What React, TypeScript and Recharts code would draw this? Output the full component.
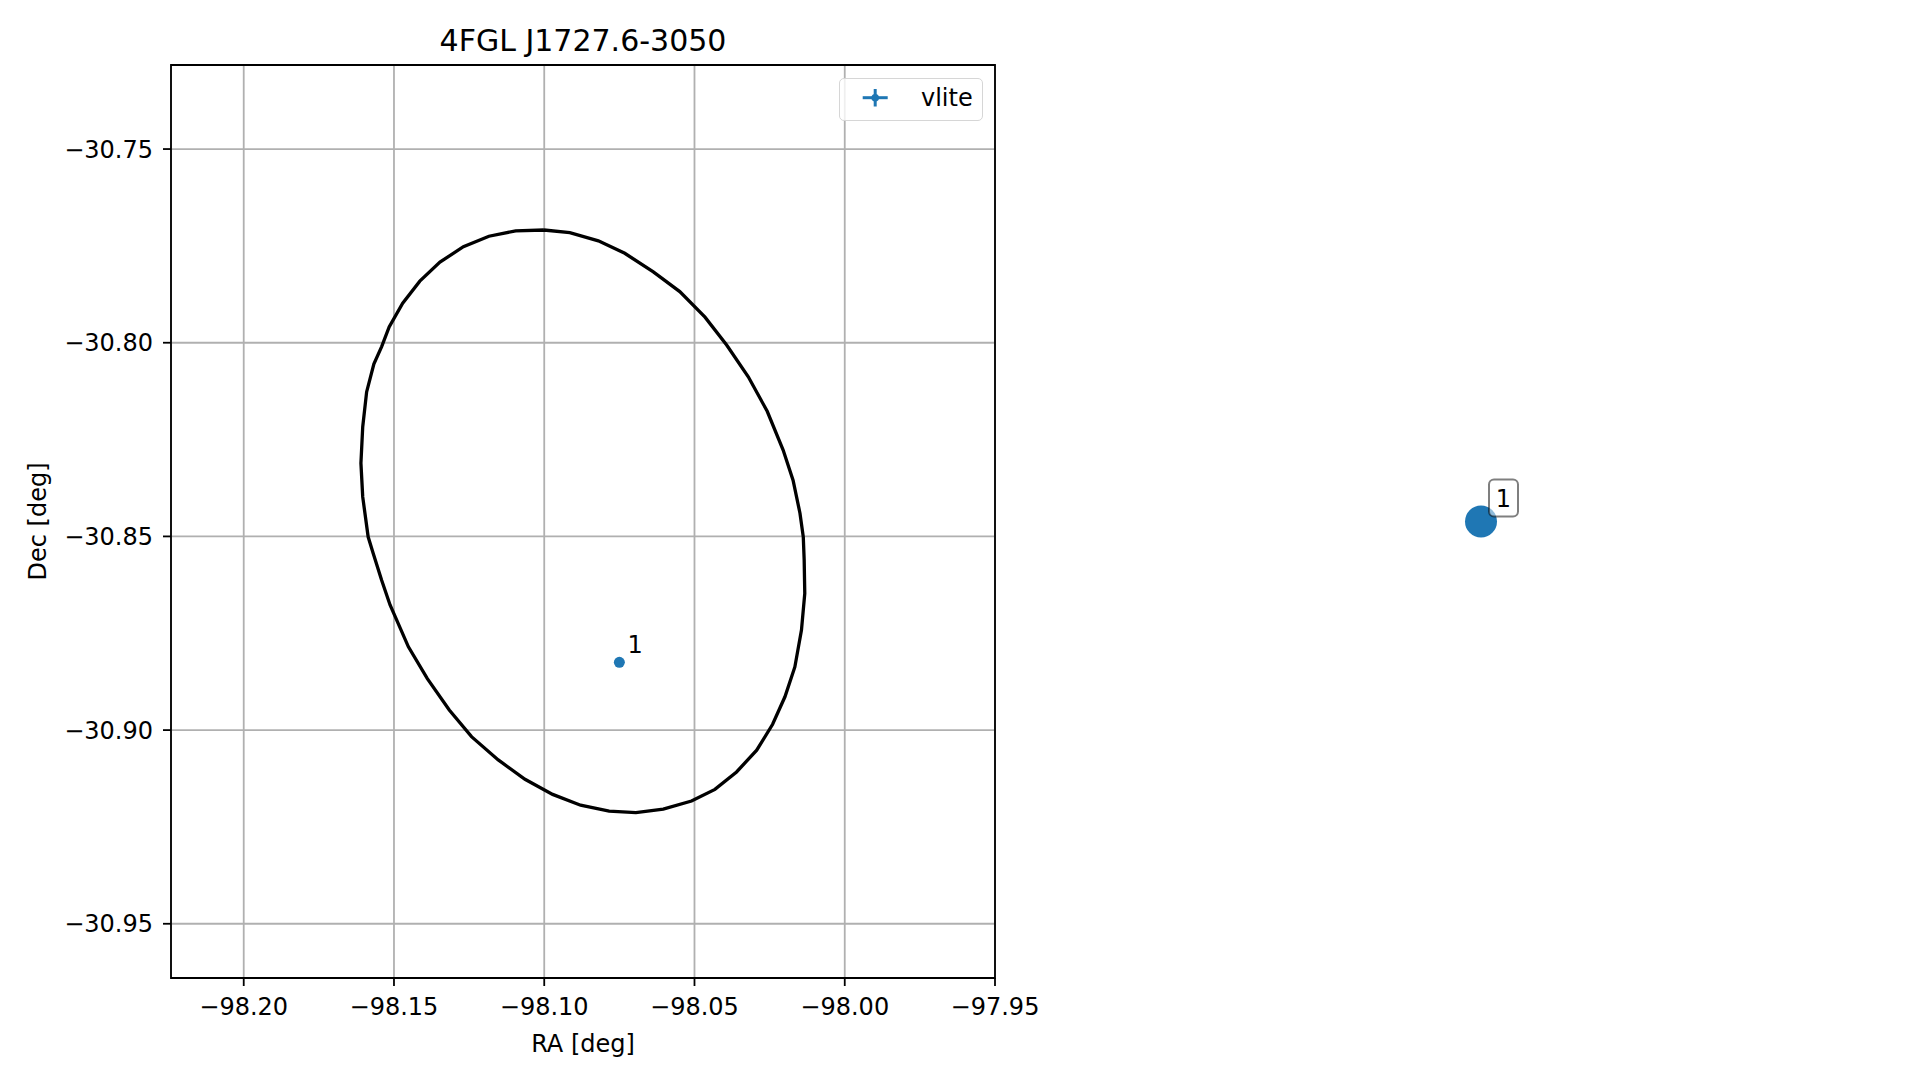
import React from 'react';
import {
  ScatterChart,
  Scatter,
  XAxis,
  YAxis,
  CartesianGrid,
  ReferenceArea,
} from 'recharts';

// 95% localisation ellipse (RA, Dec in deg)
const ellipseRa = [
  -98.1001, -98.0915, -98.082, -98.0732, -98.0637, -98.0549, -98.0465, -98.0393,
  -98.0321, -98.0258, -98.0205, -98.0172, -98.0149, -98.0138, -98.0135, -98.0133,
  -98.0144, -98.0166, -98.0199, -98.024, -98.0293, -98.036, -98.0432, -98.051,
  -98.0604, -98.0695, -98.0784, -98.0879, -98.0972, -98.1064, -98.1153, -98.1242,
  -98.1316, -98.1389, -98.1452, -98.1513, -98.1541, -98.1569, -98.1586, -98.1604,
  -98.161, -98.1604, -98.1591, -98.1567, -98.1541, -98.1516, -98.1471, -98.1414,
  -98.1347, -98.1269, -98.1184, -98.1095, -98.1001,
];
const ellipseDec = [
  -30.7709, -30.7716, -30.7737, -30.7769, -30.7817, -30.7868, -30.7934, -30.8006,
  -30.8088, -30.8177, -30.8277, -30.8355, -30.844, -30.8501, -30.8561, -30.8647,
  -30.8742, -30.8837, -30.8914, -30.8985, -30.9052, -30.9108, -30.9153, -30.9183,
  -30.9204, -30.9213, -30.9209, -30.9194, -30.9166, -30.9127, -30.9077, -30.9017,
  -30.8948, -30.8867, -30.8785, -30.8677, -30.8613, -30.8544, -30.8501, -30.8398,
  -30.8311, -30.8217, -30.8127, -30.8055, -30.801, -30.7959, -30.7898, -30.7841,
  -30.7792, -30.7752, -30.7725, -30.7711, -30.7709,
];

// vlite sources
const srcLabels = ['1'];
const srcRa = [-98.075];
const srcDec = [-30.8825];

const raTicks = [-98.2, -98.15, -98.1, -98.05, -98.0, -97.95];
const decTicks = [-30.95, -30.9, -30.85, -30.8, -30.75];
const raDomain: [number, number] = [-98.2242, -97.95];
const decDomain: [number, number] = [-30.964, -30.7283];

const FONT = '"DejaVu Sans", sans-serif';
const BLUE = '#1f77b4';
const FS = 24;

const ellipseData = ellipseRa.map((ra, i) => ({ ra, dec: ellipseDec[i] }));
const srcData = srcRa.map((ra, i) => ({ ra, dec: srcDec[i], label: srcLabels[i] }));

const fmt = (v: number) => v.toFixed(2).replace('-', '\u2212');

const NoShape = () => <g />;

const SmallSource = (props: any) => {
  const { cx, cy, payload } = props;
  return (
    <g>
      <circle cx={cx} cy={cy} r={5.5} fill={BLUE} />
      <text x={cx + 15.7} y={cy - 9} textAnchor="middle" fontSize={FS} fill="#000" fontFamily={FONT}>
        {payload.label}
      </text>
    </g>
  );
};

const BigSource = (props: any) => {
  const { cx, cy, payload } = props;
  return (
    <g>
      <circle cx={cx} cy={cy} r={16} fill={BLUE} />
      <rect
        x={cx + 8}
        y={cy - 42}
        width={29}
        height={37}
        rx={5}
        fill="#fff"
        fillOpacity={0.5}
        stroke="#000"
        strokeOpacity={0.5}
        strokeWidth={2}
      />
      <text x={cx + 22.5} y={cy - 15} textAnchor="middle" fontSize={FS} fill="#000" fontFamily={FONT}>
        {payload.label}
      </text>
    </g>
  );
};

export default function App() {
  const tick = { fill: '#000', fontSize: FS, fontFamily: FONT };
  const tickLine = { stroke: '#000', strokeWidth: 1.8 };

  return (
    <div
      style={{
        position: 'absolute',
        left: 0,
        top: 0,
        width: 1919,
        height: 1080,
        background: '#fff',
        fontFamily: FONT,
        overflow: 'hidden',
      }}
    >
      {/* Title */}
      <div
        style={{
          position: 'absolute',
          left: 0,
          width: 1166,
          top: 26,
          textAlign: 'center',
          fontSize: 30,
          lineHeight: '30px',
          color: '#000',
        }}
      >
        4FGL J1727.6-3050
      </div>

      {/* Main panel */}
      <div style={{ position: 'absolute', left: 0, top: 0 }}>
        <ScatterChart width={1060} height={1080} margin={{ top: 65, right: 65, bottom: 0, left: 0 }}>
          <CartesianGrid stroke="#b0b0b0" strokeWidth={1.8} />
          <XAxis
            type="number"
            dataKey="ra"
            domain={raDomain}
            ticks={raTicks}
            allowDataOverflow
            tickFormatter={fmt}
            tick={tick}
            tickLine={tickLine}
            tickSize={8}
            tickMargin={12}
            axisLine={false}
            height={102}
            label={{ value: 'RA [deg]', position: 'insideBottom', offset: 28, fill: '#000', fontSize: FS, fontFamily: FONT }}
          />
          <YAxis
            type="number"
            dataKey="dec"
            domain={decDomain}
            ticks={decTicks}
            allowDataOverflow
            tickFormatter={fmt}
            tick={tick}
            tickLine={tickLine}
            tickSize={8}
            tickMargin={10}
            axisLine={false}
            width={171}
            label={{
              value: 'Dec [deg]',
              angle: -90,
              position: 'insideLeft',
              offset: 37,
              fill: '#000',
              fontSize: FS,
              fontFamily: FONT,
              style: { textAnchor: 'middle' },
            }}
          />
          <Scatter
            data={ellipseData}
            line={{ stroke: '#000', strokeWidth: 3.3 }}
            shape={NoShape}
            isAnimationActive={false}
          />
          <Scatter data={srcData} shape={SmallSource} isAnimationActive={false} />
          <ReferenceArea
            x1={raDomain[0]}
            x2={raDomain[1]}
            y1={decDomain[0]}
            y2={decDomain[1]}
            fill="none"
            stroke="#000"
            strokeWidth={1.8}
            ifOverflow="visible"
          />
        </ScatterChart>
      </div>

      {/* Legend */}
      <div
        style={{
          position: 'absolute',
          left: 839,
          top: 78,
          width: 142,
          height: 41,
          border: '1.8px solid #d6d6d6',
          borderRadius: 5,
          background: 'rgba(255,255,255,0.8)',
        }}
      >
        <svg width={60} height={41} style={{ position: 'absolute', left: 10, top: 0 }}>
          <line x1={12.7} x2={37.7} y1={18.7} y2={18.7} stroke={BLUE} strokeWidth={3} />
          <line x1={25.2} x2={25.2} y1={10} y2={27.5} stroke={BLUE} strokeWidth={3} />
          <circle cx={25.2} cy={18.7} r={3.8} fill={BLUE} />
        </svg>
        <div
          style={{
            position: 'absolute',
            left: 81,
            top: 5,
            fontSize: FS,
            lineHeight: '28px',
            color: '#000',
          }}
        >
          vlite
        </div>
      </div>

      {/* Right panel: source marker only, axes off */}
      <div style={{ position: 'absolute', left: 1100, top: 0 }}>
        <ScatterChart width={762} height={1080} margin={{ top: 65, right: 0, bottom: 102, left: 0 }}>
          <XAxis type="number" dataKey="ra" hide domain={[srcRa[0] - 0.01, srcRa[0] + 0.01]} />
          <YAxis type="number" dataKey="dec" hide domain={[srcDec[0] - 0.01, srcDec[0] + 0.01]} />
          <Scatter data={srcData} shape={BigSource} isAnimationActive={false} />
        </ScatterChart>
      </div>
    </div>
  );
}
